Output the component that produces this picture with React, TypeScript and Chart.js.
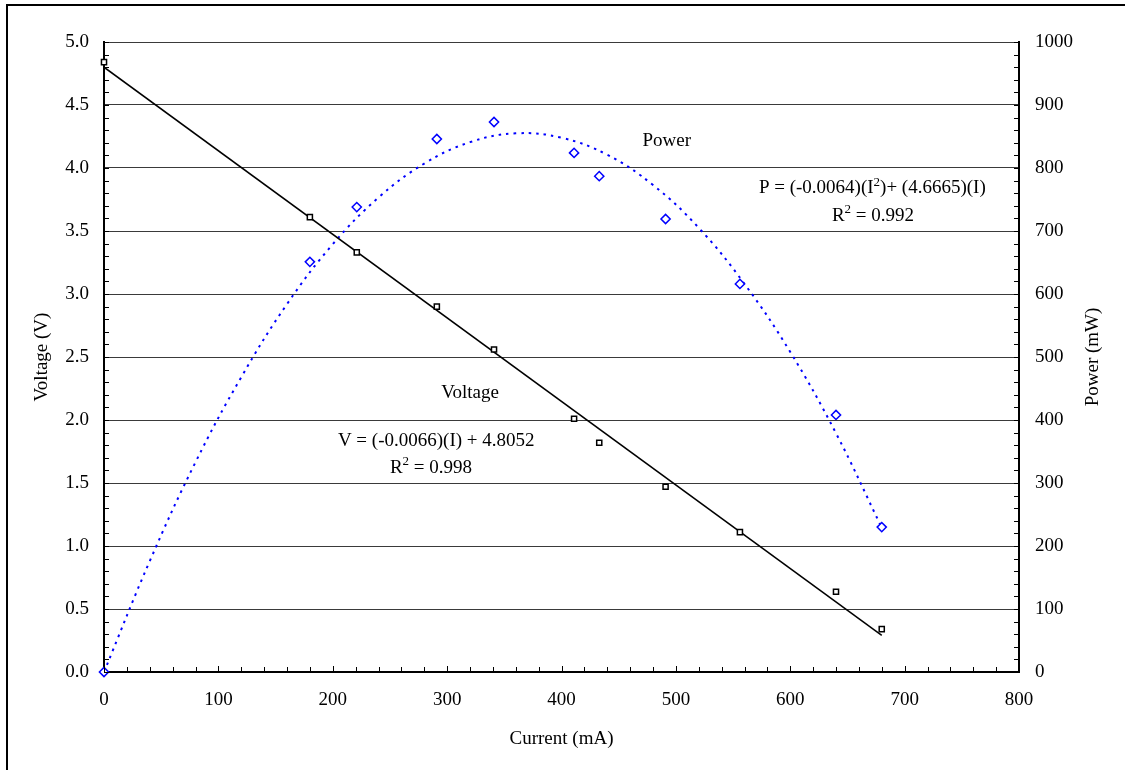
import React, { useEffect, useRef } from 'react';
import { Chart, registerables } from 'chart.js';

Chart.register(...registerables);

const currentMA = [0, 180, 221, 291, 341, 411, 433, 491, 556, 640, 680];
const voltageV = [4.84, 3.61, 3.33, 2.90, 2.56, 2.01, 1.82, 1.47, 1.11, 0.637, 0.34];
const powerMW = [0, 651, 738, 846, 873, 824, 787, 719, 616, 408, 230];

// Trendline samples
const voltFitI = [0, 680];
const voltFitV = [4.80, 0.29];
const powerFitI = [0, 40, 80, 120, 160, 200, 240, 280, 320, 360, 400, 440, 480, 520, 560, 600, 640, 680];
const powerFitP = [0, 176, 333, 468, 584, 679, 753, 807, 841, 855, 848, 821, 773, 705, 616, 508, 379, 229];

// Axis ranges / tick steps
const xRange = [0, 800];
const vRange = [0, 5];
const pRange = [0, 1000];

// Axis titles
const xTitle = 'Current (mA)';
const vTitle = 'Voltage (V)';
const pTitle = 'Power (mW)';

const FONT = "'Liberation Serif', 'Times New Roman', serif";

type Seg = { t: string; sup?: boolean };
type Note = { x: number; v: number; align: 'left' | 'center'; segs: Seg[] };

const notes: Note[] = [
  { x: 492, v: 4.214, align: 'center', segs: [{ t: 'Power' }] },
  { x: 572.6, v: 3.84, align: 'left', segs: [{ t: 'P = (-0.0064)(I' }, { t: '2', sup: true }, { t: ')+ (4.6665)(I)' }] },
  { x: 636.4, v: 3.62, align: 'left', segs: [{ t: 'R' }, { t: '2', sup: true }, { t: ' = 0.992' }] },
  { x: 320, v: 2.214, align: 'center', segs: [{ t: 'Voltage' }] },
  { x: 204.5, v: 1.833, align: 'left', segs: [{ t: 'V = (-0.0066)(I) + 4.8052' }] },
  { x: 250, v: 1.62, align: 'left', segs: [{ t: 'R' }, { t: '2', sup: true }, { t: ' = 0.998' }] },
];

const decorPlugin = {
  id: 'decor',
  beforeDraw(chart: any) {
    const ctx = chart.ctx;
    ctx.save();
    ctx.fillStyle = '#ffffff';
    ctx.fillRect(0, 0, chart.width, chart.height);
    ctx.restore();
  },
  afterDraw(chart: any) {
    const ctx = chart.ctx;
    const { left, right, top, bottom } = chart.chartArea;
    const xs = chart.scales.x;
    const ys = chart.scales.y;
    const ps = chart.scales.y1;
    ctx.save();
    // inner tick marks
    ctx.strokeStyle = '#000';
    ctx.lineWidth = 1;
    ctx.beginPath();
    for (let v = xRange[0]; v <= xRange[1]; v += 20) {
      const px = Math.round(xs.getPixelForValue(v)) + 0.5;
      const len = v % 100 === 0 ? 6 : 5;
      ctx.moveTo(px, bottom);
      ctx.lineTo(px, bottom - len);
    }
    for (let i = 0; i <= 50; i++) {
      const v = i / 10;
      const py = Math.round(ys.getPixelForValue(v)) + 0.5;
      ctx.moveTo(left, py);
      ctx.lineTo(left + 5, py);
    }
    for (let v = pRange[0]; v <= pRange[1]; v += 20) {
      const py = Math.round(ps.getPixelForValue(v)) + 0.5;
      ctx.moveTo(right, py);
      ctx.lineTo(right - 5, py);
    }
    ctx.stroke();

    // axis titles
    ctx.fillStyle = '#000';
    ctx.font = `19px ${FONT}`;
    ctx.textAlign = 'center';
    ctx.textBaseline = 'middle';
    ctx.fillText(xTitle, (left + right) / 2, 739);
    ctx.save();
    ctx.translate(42, (top + bottom) / 2);
    ctx.rotate(-Math.PI / 2);
    ctx.fillText(vTitle, 0, 0);
    ctx.restore();
    ctx.save();
    ctx.translate(1093, (top + bottom) / 2);
    ctx.rotate(-Math.PI / 2);
    ctx.fillText(pTitle, 0, 0);
    ctx.restore();

    // annotations
    for (const n of notes) {
      const x0 = xs.getPixelForValue(n.x);
      const y0 = ys.getPixelForValue(n.v);
      let total = 0;
      for (const s of n.segs) {
        ctx.font = s.sup ? `13px ${FONT}` : `19px ${FONT}`;
        total += ctx.measureText(s.t).width;
      }
      let x = n.align === 'center' ? x0 - total / 2 : x0;
      ctx.textAlign = 'left';
      for (const s of n.segs) {
        ctx.font = s.sup ? `13px ${FONT}` : `19px ${FONT}`;
        ctx.fillText(s.t, x, s.sup ? y0 - 6 : y0);
        x += ctx.measureText(s.t).width;
      }
    }

    // outer frame
    ctx.strokeStyle = '#000';
    ctx.lineWidth = 2;
    ctx.strokeRect(7, 5, 2000, 2000);
    ctx.restore();
  },
};

export default function App() {
  const ref = useRef<HTMLCanvasElement | null>(null);

  useEffect(() => {
    if (!ref.current) return;
    const tickFont = { family: FONT, size: 19 };
    const chart = new Chart(ref.current, {
      type: 'line',
      data: {
        datasets: [
          {
            label: 'Voltage',
            data: currentMA.map((x, i) => ({ x, y: voltageV[i] })),
            yAxisID: 'y',
            showLine: false,
            pointStyle: 'rect',
            pointRadius: 3.6,
            pointBorderWidth: 1.5,
            borderColor: '#000',
            backgroundColor: '#fff',
            pointBackgroundColor: '#fff',
            clip: false,
            order: 0,
          },
          {
            label: 'Power',
            data: currentMA.map((x, i) => ({ x, y: powerMW[i] })),
            yAxisID: 'y1',
            showLine: false,
            pointStyle: 'rectRot',
            pointRadius: 4.6,
            pointBorderWidth: 1.5,
            borderColor: '#0000ff',
            backgroundColor: '#fff',
            pointBackgroundColor: '#fff',
            clip: false,
            order: 1,
          },
          {
            label: 'Voltage fit',
            data: voltFitI.map((x, i) => ({ x, y: voltFitV[i] })),
            yAxisID: 'y',
            pointRadius: 0,
            borderColor: '#000',
            borderWidth: 1.5,
            order: 2,
          },
          {
            label: 'Power fit',
            data: powerFitI.map((x, i) => ({ x, y: powerFitP[i] })),
            yAxisID: 'y1',
            pointRadius: 0,
            borderColor: '#0000ff',
            borderWidth: 2,
            borderDash: [2.5, 5],
            tension: 0.4,
            order: 3,
          },
        ],
      },
      options: {
        animation: false,
        responsive: false,
        maintainAspectRatio: false,
        layout: { padding: { top: 42, left: 0, right: 0, bottom: 0 } },
        plugins: { legend: { display: false }, tooltip: { enabled: false } },
        scales: {
          x: {
            type: 'linear',
            min: xRange[0],
            max: xRange[1],
            ticks: { stepSize: 100, padding: 17, font: tickFont, color: '#000', maxRotation: 0, callback: (v: any) => String(v) },
            grid: { display: false, drawTicks: false },
            border: { display: true, color: '#000', width: 2 },
            afterFit: (s: any) => { s.height = 98; },
          },
          y: {
            type: 'linear',
            position: 'left',
            min: vRange[0],
            max: vRange[1],
            ticks: { stepSize: 0.5, padding: 15, font: tickFont, color: '#000', callback: (v: any) => Number(v).toFixed(1) },
            grid: { drawTicks: false, color: '#3a3a3a', lineWidth: 1 },
            border: { display: true, color: '#000', width: 2 },
            afterFit: (s: any) => { s.width = 104; },
          },
          y1: {
            type: 'linear',
            position: 'right',
            min: pRange[0],
            max: pRange[1],
            ticks: { stepSize: 100, padding: 16, font: tickFont, color: '#000', callback: (v: any) => String(v) },
            grid: { drawOnChartArea: false, drawTicks: false },
            border: { display: true, color: '#000', width: 2 },
            afterFit: (s: any) => { s.width = 106; },
          },
        },
      },
      plugins: [decorPlugin],
    } as any);
    return () => chart.destroy();
  }, []);

  return (
    <div style={{ position: 'absolute', left: 0, top: 0, width: 1125, height: 770, overflow: 'hidden' }}>
      <canvas ref={ref} width={1125} height={770} style={{ display: 'block', width: 1125, height: 770 }} />
    </div>
  );
}
